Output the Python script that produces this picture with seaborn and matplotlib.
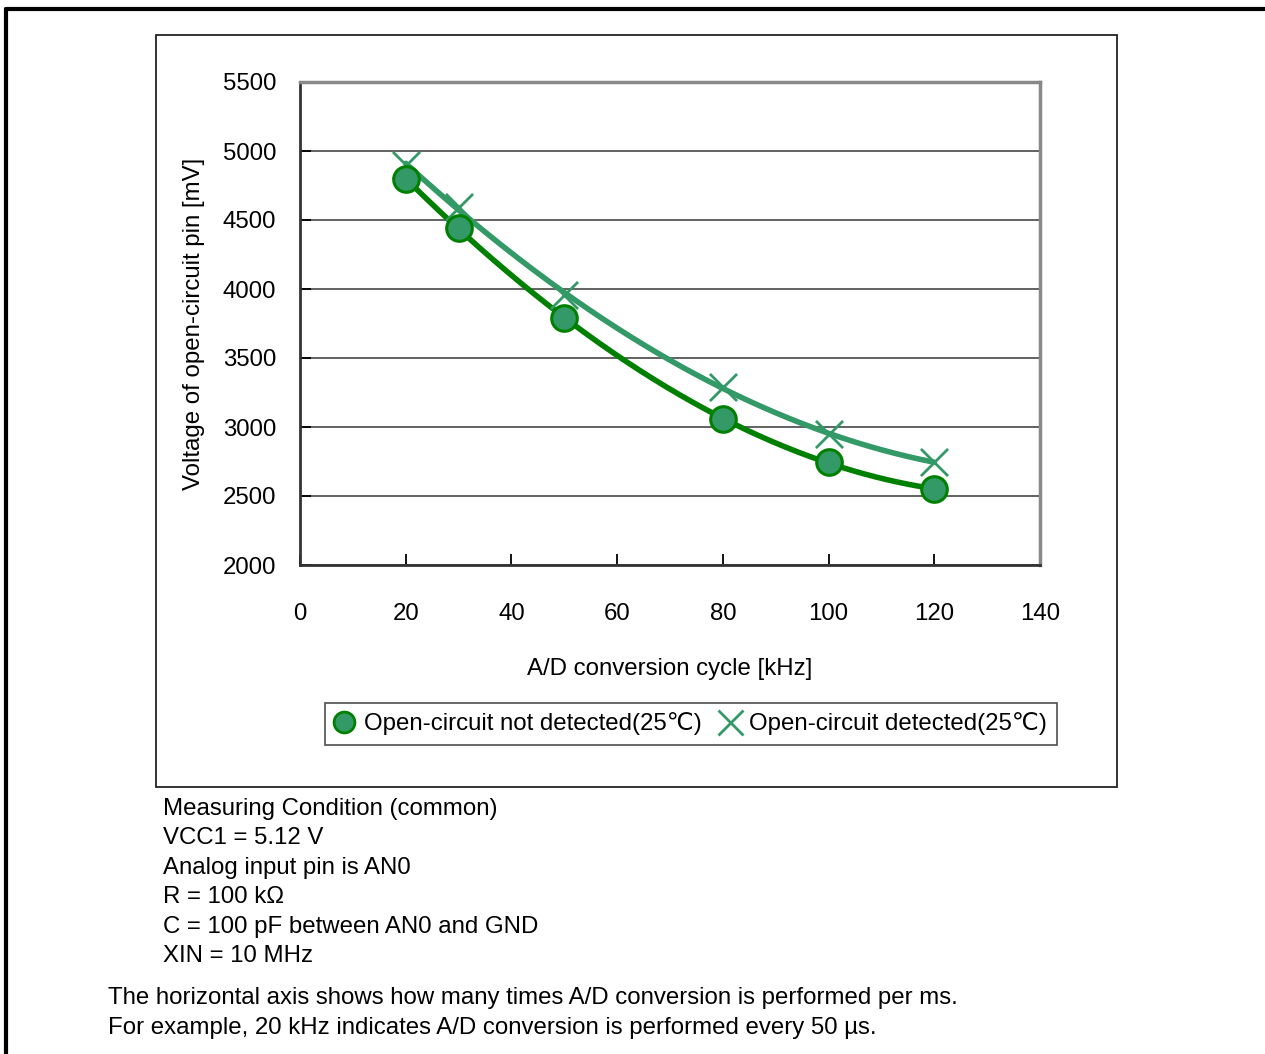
import numpy as np
import pandas as pd
import matplotlib
matplotlib.use("Agg")
import matplotlib.pyplot as plt
import seaborn as sns
from matplotlib.lines import Line2D
from matplotlib.patches import Rectangle

# 데이터
freq_khz = [20, 30, 50, 80, 100, 120]
not_detected_mv = [4795, 4445, 3790, 3058, 2745, 2550]
detected_mv = [4900, 4595, 3957, 3290, 2950, 2745]

x_ticks = [0, 20, 40, 60, 80, 100, 120, 140]
y_ticks = [2000, 2500, 3000, 3500, 4000, 4500, 5000, 5500]

condition_lines = [
    "Measuring Condition (common)",
    "VCC1 = 5.12 V",
    "Analog input pin is AN0",
    "R = 100 k\u03a9",
    "C = 100 pF between AN0 and GND",
    "XIN = 10 MHz",
]
note_lines = [
    "The horizontal axis shows how many times A/D conversion is performed per ms.",
    "For example, 20 kHz indicates A/D conversion is performed every 50 \u00b5s.",
]

sns.set_style("white")
plt.rcParams['font.family'] = ['Liberation Sans', 'DejaVu Sans']
plt.rcParams['text.color'] = 'black'
plt.rcParams['axes.labelcolor'] = 'black'
plt.rcParams['xtick.color'] = 'black'
plt.rcParams['ytick.color'] = 'black'
FS = 17.3

W, H = 1265, 1054
fig = plt.figure(figsize=(W / 100, H / 100), dpi=100)

def fx(px):
    return px / W

def fy(py):
    return 1 - py / H

# 바깥 프레임 (위/왼쪽)
fig.add_artist(Line2D([fx(6), fx(6)], [0, fy(9)], color='black', lw=3))
fig.add_artist(Line2D([fx(6), 1], [fy(9), fy(9)], color='black', lw=3))
# 차트 박스
fig.add_artist(Rectangle((fx(156), fy(787)), fx(1117) - fx(156), fy(35) - fy(787),
                         fill=False, edgecolor='#222222', lw=1.3))

ax = fig.add_axes([fx(300), fy(565), fx(1040) - fx(300), fy(82) - fy(565)])

df = pd.DataFrame({'freq': freq_khz, 'nd': not_detected_mv, 'd': detected_mv})

# 부드러운 곡선 (3차 다항식 근사)
xs = np.linspace(min(freq_khz), max(freq_khz), 200)
for col, color, lw in [('d', '#339966', 4), ('nd', '#008000', 4)]:
    coef = np.polyfit(df['freq'], df[col], 3)
    sns.lineplot(x=xs, y=np.polyval(coef, xs), color=color, lw=lw, ax=ax, zorder=3)

sns.scatterplot(data=df, x='freq', y='d', marker='x', s=380, color='#339966',
                linewidth=2, ax=ax, zorder=4)
sns.scatterplot(data=df, x='freq', y='nd', marker='o', s=340, color='#339966',
                edgecolor='#008000', linewidth=2.2, ax=ax, zorder=5)

ax.set_xlim(0, 140)
ax.set_ylim(2000, 5500)
ax.set_xticks(x_ticks)
ax.set_yticks(y_ticks)
ax.grid(axis='y', color='#555555', lw=1.3)
ax.grid(axis='x', visible=False)
ax.set_axisbelow(True)
ax.tick_params(axis='both', direction='in', length=8, width=1.3, colors='black',
               labelsize=FS, bottom=True, left=True)
ax.tick_params(axis='x', pad=27)
ax.tick_params(axis='y', pad=17)
ax.set_xlabel("A/D conversion cycle [kHz]", fontsize=FS, labelpad=24)
ax.set_ylabel("Voltage of open-circuit pin [mV]", fontsize=FS, labelpad=13)
for s in ['left', 'bottom']:
    ax.spines[s].set_color('#333333')
    ax.spines[s].set_linewidth(2)
for s in ['top', 'right']:
    ax.spines[s].set_color('#888888')
    ax.spines[s].set_linewidth(2.5)
    ax.spines[s].set_visible(True)

handles = [
    Line2D([], [], marker='o', ls='none', markersize=15, markerfacecolor='#339966',
           markeredgecolor='#008000', markeredgewidth=2),
    Line2D([], [], marker='x', ls='none', markersize=18, color='#339966', markeredgewidth=2),
]
leg = fig.legend(handles, ["Open-circuit not detected(25\u2103)", "Open-circuit detected(25\u2103)"],
                 loc='center', bbox_to_anchor=(fx(691), fy(724)), ncol=2, fontsize=FS,
                 frameon=True, fancybox=False, edgecolor='#222222', handlelength=0.8,
                 handletextpad=0.4, columnspacing=0.8, borderpad=0.4, borderaxespad=0)
leg.get_frame().set_linewidth(1.2)

for i, t in enumerate(condition_lines):
    fig.text(fx(163), fy(809 + i * 29.4), t, fontsize=FS, va='center', ha='left')
for i, t in enumerate(note_lines):
    fig.text(fx(108), fy(998 + i * 30), t, fontsize=FS, va='center', ha='left')

fig.savefig("out.png", dpi=100)
